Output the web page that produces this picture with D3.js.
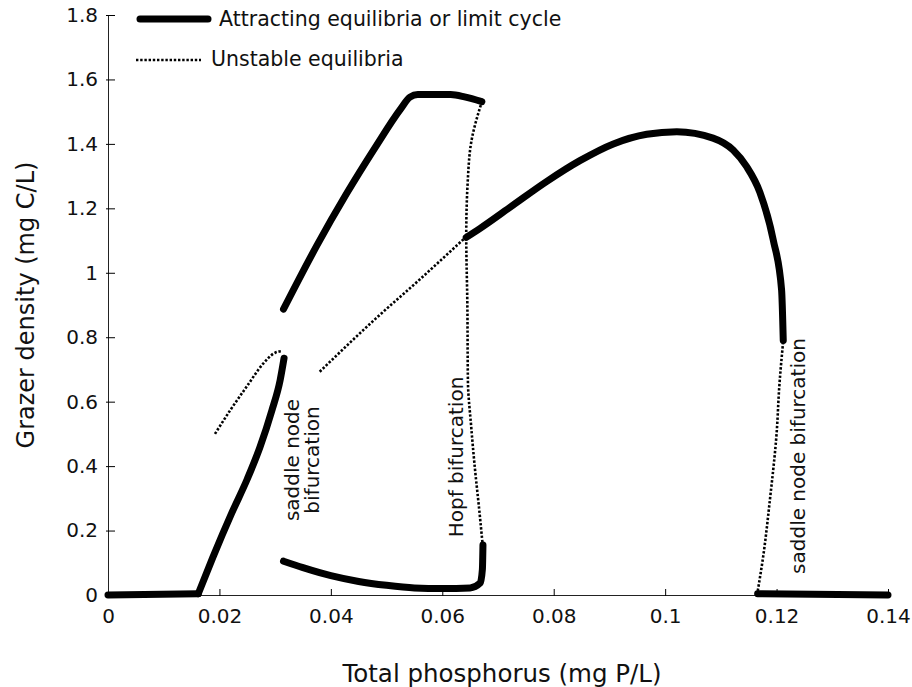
<!DOCTYPE html>
<html>
<head>
<meta charset="utf-8">
<script src="https://cdn.jsdelivr.net/npm/d3@7"></script>
<style>
  body { margin: 0; background: #fff; }
  text { font-family: "DejaVu Sans", sans-serif; fill: #111; }
</style>
</head>
<body>
<div id="chart"></div>
<script>
const WIDTH = 912;
const HEIGHT = 687;
const MARGINS = { TOP: 15, LEFT: 108, BOTTOM: 92, RIGHT: 24 };

// tick values
const X_TICKS = [0, 0.02, 0.04, 0.06, 0.08, 0.1, 0.12, 0.14];
const Y_TICKS = [0, 0.2, 0.4, 0.6, 0.8, 1, 1.2, 1.4, 1.6, 1.8];

// stable branches (total P, grazer density)
const lowFlat = [[0, 0], [0.0162, 0.004]];
const lowBranch = [[0.0162, 0.004], [0.0188, 0.116], [0.0222, 0.254], [0.0250, 0.36],
  [0.0273, 0.46], [0.0294, 0.572], [0.0309, 0.667], [0.0316, 0.735]];
const cycleMax = [[0.0315, 0.887], [0.0375, 1.085], [0.0428, 1.245], [0.048, 1.39], [0.0525, 1.508],
  [0.0542, 1.545], [0.0556, 1.553], [0.0615, 1.553], [0.064, 1.546], [0.0671, 1.531]];
const cycleMin = [[0.0315, 0.105], [0.035, 0.085], [0.040, 0.06], [0.045, 0.042], [0.050, 0.03],
  [0.055, 0.022], [0.060, 0.02], [0.065, 0.022], [0.0668, 0.037], [0.0672, 0.08], [0.0673, 0.155]];
const highBranch = [[0.0643, 1.11], [0.0668, 1.138], [0.0727, 1.21], [0.0787, 1.283], [0.0847, 1.348],
  [0.0907, 1.400], [0.0967, 1.430], [0.1021, 1.438], [0.1086, 1.418], [0.1122, 1.381], [0.1146, 1.33],
  [0.117, 1.25], [0.1194, 1.102], [0.1209, 0.947], [0.1212, 0.79]];
const zeroBranch = [[0.1166, 0.004], [0.14, 0]];

// unstable branches
const saddleLeft = [[0.0192, 0.50], [0.022, 0.575], [0.0249, 0.647], [0.0279, 0.719], [0.030, 0.752], [0.0313, 0.757]];
const saddleMid = [[0.038, 0.693], [0.048, 0.857], [0.056, 0.98], [0.0643, 1.112]];
const hopfCycle = [[0.0672, 0.164], [0.0666, 0.27], [0.0659, 0.385], [0.0652, 0.52], [0.0646, 0.664],
  [0.0645, 0.90], [0.0643, 1.117], [0.0646, 1.294], [0.0652, 1.406], [0.0671, 1.531]];
const saddleRight = [[0.1165, 0.0], [0.1176, 0.12], [0.1188, 0.295], [0.12, 0.50], [0.1205, 0.65], [0.1212, 0.79]];

const svg = d3.select("#chart")
    .append("svg")
    .attr("width", WIDTH)
    .attr("height", HEIGHT);

const x = d3.scaleLinear().domain([0, 0.14]).range([MARGINS.LEFT, WIDTH - MARGINS.RIGHT]);
const y = d3.scaleLinear().domain([0, 1.8]).range([HEIGHT - MARGINS.BOTTOM, MARGINS.TOP]);

// x-axis
let xAxis = svg.append("g")
    .attr("transform", `translate(0,${y(0)})`)
    .call(d3.axisBottom(x).tickValues(X_TICKS).tickFormat(d3.format("")).tickSizeOuter(0));
xAxis.selectAll(".tick line").attr("y1", 1).attr("y2", -6);
xAxis.selectAll(".tick text").attr("y", 14).style("font-size", "20px");

// y-axis
let yAxis = svg.append("g")
    .attr("transform", `translate(${x(0)},0)`)
    .call(d3.axisLeft(y).tickValues(Y_TICKS).tickFormat(d3.format("")).tickSizeOuter(0));
yAxis.selectAll(".tick line").attr("x1", -2).attr("x2", 7);
yAxis.selectAll(".tick text").attr("x", -10).style("font-size", "20px");
svg.selectAll(".domain").attr("stroke", "#222");

// axis titles
svg.append("text")
    .attr("x", x(0.07) + 4)
    .attr("y", 682)
    .attr("text-anchor", "middle")
    .style("font-size", "24.5px")
    .text("Total phosphorus (mg P/L)");

svg.append("text")
    .attr("transform", `translate(26,${y(0.9)}) rotate(-90)`)
    .attr("text-anchor", "middle")
    .attr("dominant-baseline", "central")
    .style("font-size", "24px")
    .text("Grazer density (mg C/L)");

// curves
const lineX = d3.line()
    .x(d => x(d[0]))
    .y(d => y(d[1]))
    .curve(d3.curveMonotoneX);
const lineY = d3.line()
    .x(d => x(d[0]))
    .y(d => y(d[1]))
    .curve(d3.curveMonotoneY);

function drawUnstable(data, gen) {
    svg.append("path")
        .attr("d", gen(data))
        .attr("fill", "none")
        .attr("stroke", "#000")
        .attr("stroke-width", 2.6)
        .attr("stroke-dasharray", "2.4,1.8");
}
function drawStable(data, gen) {
    svg.append("path")
        .attr("d", gen(data))
        .attr("fill", "none")
        .attr("stroke", "#000")
        .attr("stroke-width", 7)
        .attr("stroke-linecap", "round")
        .attr("stroke-linejoin", "round");
}

drawUnstable(saddleLeft, lineX);
drawUnstable(saddleMid, lineX);
drawUnstable(hopfCycle, lineY);
drawUnstable(saddleRight, lineY);

drawStable(lowFlat, lineX);
drawStable(lowBranch, lineX);
drawStable(cycleMax, lineX);
drawStable(cycleMin, lineX);
drawStable(highBranch, lineX);
drawStable(zeroBranch, lineX);

// annotations
function addLabel(tx, ty, label) {
    svg.append("text")
        .attr("transform", `translate(${tx},${ty}) rotate(-90)`)
        .attr("text-anchor", "middle")
        .attr("dominant-baseline", "central")
        .style("font-size", "20px")
        .text(label);
}
addLabel(292, 460, "saddle node");
addLabel(312, 460, "bifurcation");
addLabel(456, 457, "Hopf bifurcation");
addLabel(798, 456, "saddle node bifurcation");

// legend
let legend = svg.append("g").attr("id", "legend");
legend.append("line")
    .attr("x1", 140).attr("x2", 208).attr("y1", 19).attr("y2", 19)
    .attr("stroke", "#000").attr("stroke-width", 7).attr("stroke-linecap", "round");
legend.append("text")
    .attr("x", 219).attr("y", 19)
    .attr("dominant-baseline", "central")
    .style("font-size", "20.5px")
    .text("Attracting equilibria or limit cycle");
legend.append("line")
    .attr("x1", 136).attr("x2", 201).attr("y1", 60).attr("y2", 60)
    .attr("stroke", "#000").attr("stroke-width", 2.6).attr("stroke-dasharray", "2.4,1.8");
legend.append("text")
    .attr("x", 211).attr("y", 59)
    .attr("dominant-baseline", "central")
    .style("font-size", "20.5px")
    .text("Unstable equilibria");
</script>
</body>
</html>
